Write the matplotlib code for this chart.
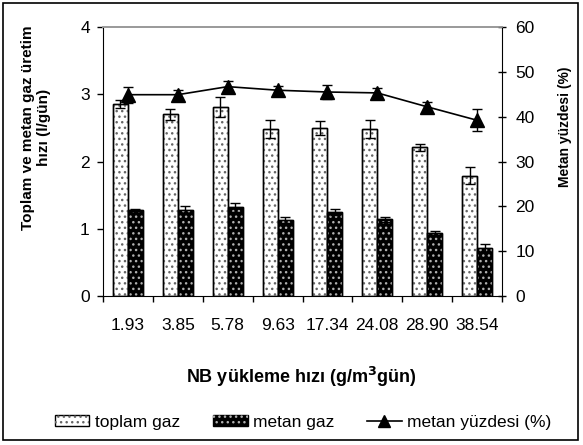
import matplotlib
matplotlib.use("Agg")
import matplotlib.pyplot as plt
import numpy as np
from matplotlib.patches import Patch, Rectangle
from matplotlib.lines import Line2D

plt.rcParams['font.family'] = ['Liberation Sans', 'DejaVu Sans']
plt.rcParams['hatch.linewidth'] = 1.0

categories = ["1.93", "3.85", "5.78", "9.63", "17.34", "24.08", "28.90", "38.54"]
toplam_gaz = [2.86, 2.70, 2.81, 2.48, 2.50, 2.48, 2.21, 1.79]
toplam_err = [0.06, 0.08, 0.15, 0.13, 0.10, 0.13, 0.05, 0.13]
metan_gaz = [1.28, 1.28, 1.32, 1.13, 1.25, 1.14, 0.93, 0.71]
metan_err = [0.01, 0.06, 0.07, 0.04, 0.04, 0.04, 0.04, 0.06]
metan_yuzde = [44.9, 44.9, 46.7, 45.9, 45.5, 45.3, 42.2, 39.2]
yuzde_err = [1.8, 1.0, 1.2, 1.0, 1.5, 1.0, 1.0, 2.5]

W, H = 583, 445
fig = plt.figure(figsize=(W/100, H/100), dpi=100)
ax = fig.add_axes([103/W, 1-296/H, (502-103)/W, (296-27)/H])
ax2 = ax.twinx()

x = np.arange(len(categories))
w = 0.3
# toplam gaz: white with gray dots
ax.bar(x - w/2, toplam_gaz, w, color='white', edgecolor='black', linewidth=1.0, zorder=2)
ax.bar(x - w/2, toplam_gaz, w, color='none', edgecolor='#666666', hatch='...', linewidth=0, zorder=3)
ax.bar(x - w/2, toplam_gaz, w, color='none', edgecolor='black', linewidth=1.0, zorder=4)
ax.errorbar(x - w/2, toplam_gaz, yerr=toplam_err, fmt='none', ecolor='black', elinewidth=1, capsize=3.5, capthick=1, zorder=5)
# metan gaz: black with light dots
ax.bar(x + w/2, metan_gaz, w, color='black', edgecolor='black', linewidth=1.0, zorder=2)
ax.bar(x + w/2, metan_gaz, w, color='none', edgecolor='#b0b0b0', hatch='...', linewidth=0, zorder=3)
ax.bar(x + w/2, metan_gaz, w, color='none', edgecolor='black', linewidth=1.0, zorder=4)
ax.errorbar(x + w/2, metan_gaz, yerr=metan_err, fmt='none', ecolor='black', elinewidth=1, capsize=3.5, capthick=1, zorder=5)

ax2.errorbar(x, metan_yuzde, yerr=yuzde_err, fmt='-^', color='black', lw=1.2, ms=10, capsize=3.5, capthick=1, elinewidth=1, zorder=6)

ax.set_xlim(-0.5, len(categories) - 0.5)
ax.set_ylim(0, 4)
ax2.set_ylim(0, 60)
ax.set_yticks([0, 1, 2, 3, 4])
ax2.set_yticks([0, 10, 20, 30, 40, 50, 60])

ax.set_xticks(np.arange(-0.5, len(categories), 1.0))
ax.set_xticklabels([])
ax.set_xticks(x, minor=True)
ax.set_xticklabels(categories, minor=True)
ax.tick_params(axis='x', which='major', direction='out', length=4, width=1)
ax.tick_params(axis='x', which='minor', length=0, pad=16, labelsize=12.5)
ax.tick_params(axis='y', direction='out', length=4.5, width=1, labelsize=12.5, pad=5)
ax2.tick_params(axis='y', direction='inout', length=5.5, width=1, labelsize=12.5, pad=7)

for a in (ax, ax2):
    a.spines['top'].set_color('#999999')
    a.spines['top'].set_linewidth(1.2)
ax.spines['right'].set_visible(False)
ax2.spines['left'].set_visible(False)
ax2.spines['bottom'].set_visible(False)
ax.set_zorder(ax2.get_zorder() - 1)
ax2.patch.set_visible(False)

fig.text(36/W, 1-127.5/H, "Toplam ve metan gaz üretim\nhızı (l/gün)", fontsize=11, fontweight='bold',
         rotation=90, ha='center', va='center', multialignment='center', linespacing=1.15)
fig.text(565/W, 1-126.5/H, "Metan yüzdesi (%)", fontsize=10, fontweight='bold',
         rotation=90, ha='center', va='center')
fig.text(301/W, 1-377/H, "NB yükleme hızı (g/m$^\\mathbf{3}$gün)", fontsize=13, fontweight='bold',
         ha='center', va='center')

# legend
h_toplam = (Patch(facecolor='white', edgecolor='black'), Patch(facecolor='none', edgecolor='#666666', hatch='...', linewidth=0))
h_metan = (Patch(facecolor='black', edgecolor='black'), Patch(facecolor='none', edgecolor='#b0b0b0', hatch='...', linewidth=0))
h_line = Line2D([], [], color='black', marker='^', ms=8, lw=1.2)
fig.legend([h_toplam, h_metan, h_line], ["toplam gaz", "metan gaz", "metan yüzdesi (%)"],
           loc='center', bbox_to_anchor=(303/W, 1-422/H), ncol=3, frameon=False, fontsize=12.5,
           handlelength=2.0, handleheight=0.6, handletextpad=0.3, columnspacing=1.9)

fig.patches.append(Rectangle((3/W, 1-440/H), 575/W, 437/H, transform=fig.transFigure,
                             fill=False, edgecolor='black', linewidth=1.2))

fig.savefig("out.png", dpi=100)
